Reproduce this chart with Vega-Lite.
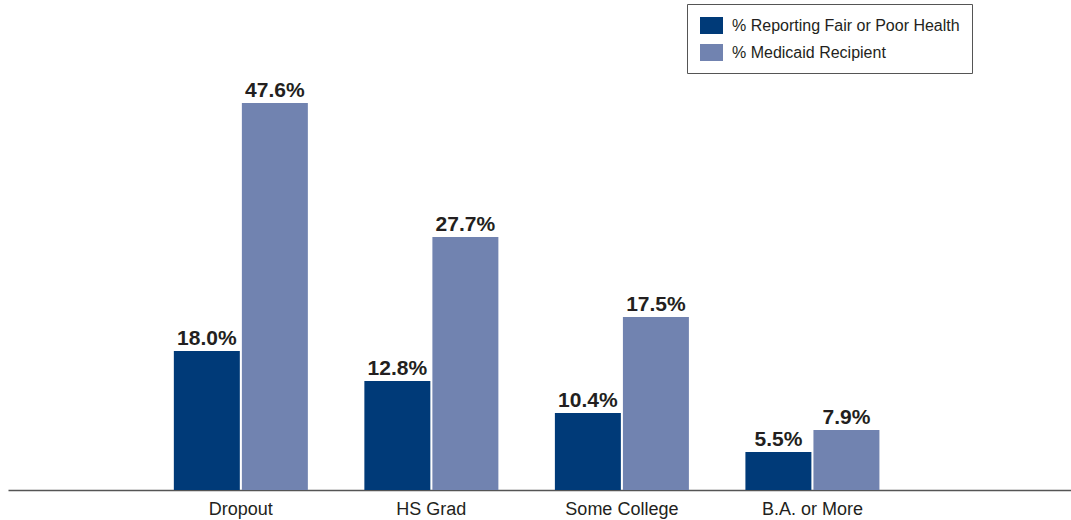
{
  "$schema": "https://vega.github.io/schema/vega-lite/v6.json",
  "width": 1063,
  "height": 488,
  "autosize": {"type": "none"},
  "padding": {"left": 8, "top": 2, "right": 0, "bottom": 30},
  "background": "white",
  "config": {"view": {"stroke": null}, "font": "Liberation Sans"},
  "data": {
    "values": [
      {"education": "Dropout", "measure": "% Reporting Fair or Poor Health", "label": "18.0%", "drawn": 17.09},
      {"education": "Dropout", "measure": "% Medicaid Recipient", "label": "47.6%", "drawn": 47.58},
      {"education": "HS Grad", "measure": "% Reporting Fair or Poor Health", "label": "12.8%", "drawn": 13.40},
      {"education": "HS Grad", "measure": "% Medicaid Recipient", "label": "27.7%", "drawn": 31.11},
      {"education": "Some College", "measure": "% Reporting Fair or Poor Health", "label": "10.4%", "drawn": 9.47},
      {"education": "Some College", "measure": "% Medicaid Recipient", "label": "17.5%", "drawn": 21.27},
      {"education": "B.A. or More", "measure": "% Reporting Fair or Poor Health", "label": "5.5%", "drawn": 4.67},
      {"education": "B.A. or More", "measure": "% Medicaid Recipient", "label": "7.9%", "drawn": 7.38}
    ]
  },
  "encoding": {
    "x": {
      "field": "education",
      "type": "nominal",
      "sort": ["Dropout", "HS Grad", "Some College", "B.A. or More"],
      "scale": {"paddingInner": 0.2966, "paddingOuter": 0.938, "align": 0.464},
      "axis": {
        "title": null,
        "labelAngle": 0,
        "labelFontSize": 18,
        "labelColor": "#231F20",
        "ticks": false,
        "tickSize": 0,
        "labelPadding": 10,
        "domainColor": "#555555",
        "domainWidth": 1.5,
        "grid": false
      }
    },
    "xOffset": {
      "field": "measure",
      "type": "nominal",
      "sort": ["% Reporting Fair or Poor Health", "% Medicaid Recipient"],
      "scale": {"paddingInner": 0.03, "paddingOuter": 0}
    },
    "y": {
      "field": "drawn",
      "type": "quantitative",
      "scale": {"domain": [0, 60], "nice": false},
      "axis": null
    }
  },
  "layer": [
    {
      "mark": {"type": "bar"},
      "encoding": {
        "color": {
          "field": "measure",
          "type": "nominal",
          "scale": {
            "domain": ["% Reporting Fair or Poor Health", "% Medicaid Recipient"],
            "range": ["#003A78", "#7183B0"]
          },
          "legend": {
            "title": null,
            "orient": "none",
            "legendX": 679,
            "legendY": 2,
            "symbolType": "M-0.85,-0.85H1.45V0.85H-0.85Z",
            "symbolSize": 400,
            "symbolStrokeWidth": 0,
            "symbolOpacity": 1,
            "labelFontSize": 16,
            "labelColor": "#231F20",
            "labelOffset": 13.5,
            "labelLimit": 400,
            "rowPadding": 8,
            "padding": 11.5,
            "strokeColor": "#555555",
            "fillColor": "white"
          }
        }
      }
    },
    {
      "mark": {
        "type": "text",
        "dy": -6,
        "baseline": "alphabetic",
        "fontSize": 21,
        "fontWeight": "bold",
        "color": "#231F20"
      },
      "encoding": {"text": {"field": "label"}}
    }
  ]
}
